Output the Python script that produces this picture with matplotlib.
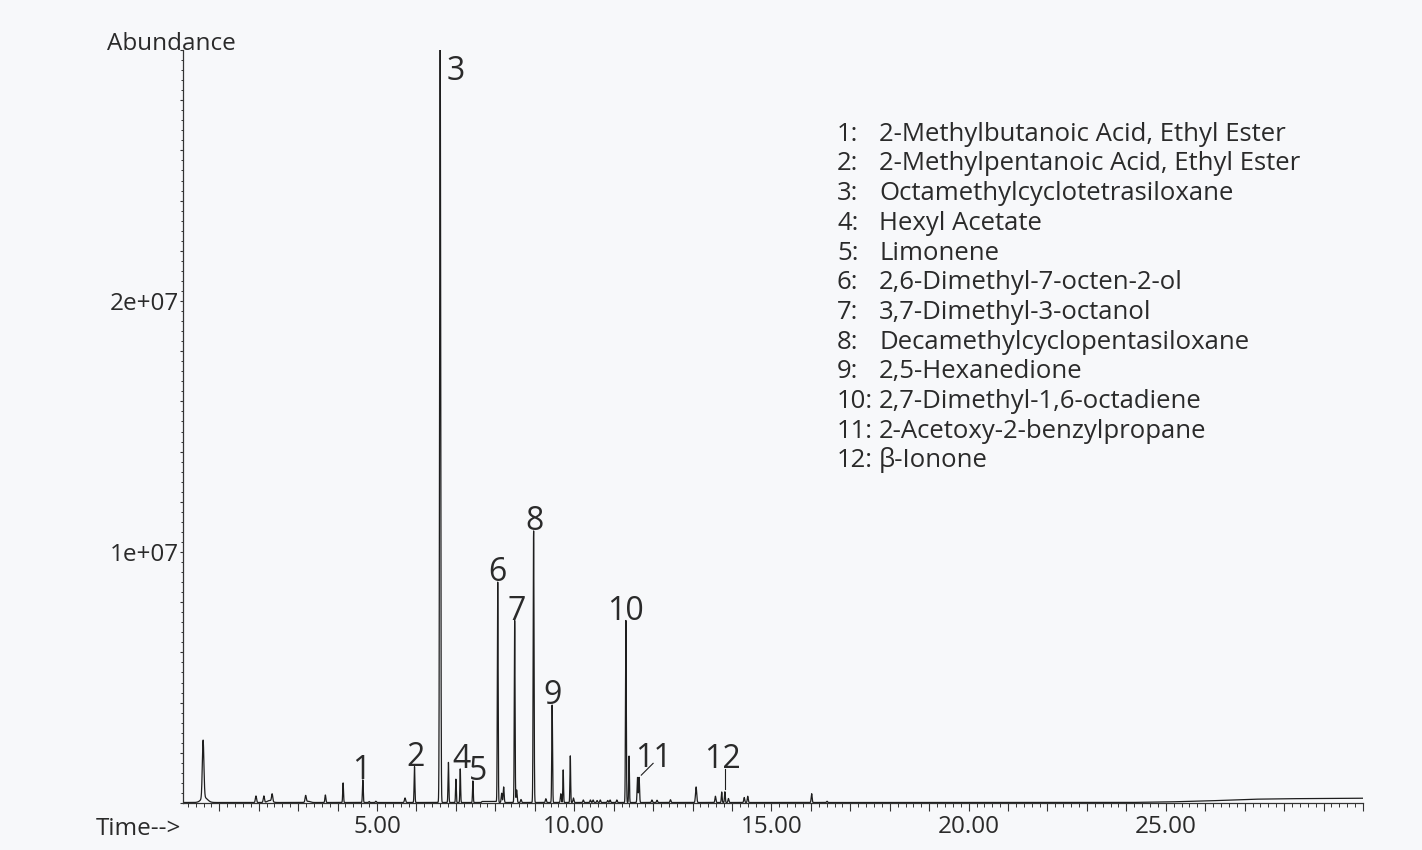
import numpy as np
import matplotlib
matplotlib.use("Agg")
import matplotlib.pyplot as plt
from matplotlib.ticker import MultipleLocator, FuncFormatter

# ---------------- data ----------------
# retention time (min), peak abundance, peak sigma (min)
peak_rt = [0.59, 0.62, 1.93, 2.13, 2.34, 2.28, 3.19, 3.25, 3.69, 4.14, 4.64, 4.80, 4.97,
           5.71, 5.95, 6.60, 6.81, 7.00, 7.11, 7.43, 8.06, 8.16, 8.21, 8.49, 8.54, 8.65,
           8.97, 9.28, 9.44, 9.66, 9.72, 9.90, 9.98, 10.23, 10.41, 10.48, 10.58, 10.66,
           10.85, 10.91, 11.08, 11.31, 11.39, 11.605, 11.645, 11.97, 12.10, 12.44, 13.09,
           13.58, 13.74, 13.82, 13.91, 14.31, 14.40, 16.02, 16.41]
peak_height = [2.30e6, 0.20e6, 0.26e6, 0.26e6, 0.30e6, 0.08e6, 0.26e6, 0.05e6, 0.30e6,
               0.78e6, 0.90e6, 0.04e6, 0.05e6, 0.18e6, 1.43e6, 3.2e7, 1.60e6, 0.93e6,
               1.34e6, 0.86e6, 8.78e6, 0.37e6, 0.62e6, 7.26e6, 0.50e6, 0.12e6, 10.83e6,
               0.15e6, 3.88e6, 0.35e6, 1.30e6, 1.86e6, 0.18e6, 0.10e6, 0.10e6, 0.10e6,
               0.08e6, 0.10e6, 0.08e6, 0.10e6, 0.10e6, 7.26e6, 1.85e6, 1.00e6, 1.00e6,
               0.10e6, 0.09e6, 0.11e6, 0.62e6, 0.25e6, 0.42e6, 0.43e6, 0.16e6, 0.20e6,
               0.25e6, 0.35e6, 0.05e6]
peak_sigma = [0.020, 0.080, 0.015, 0.015, 0.015, 0.060, 0.015, 0.050, 0.012, 0.010,
              0.010, 0.012, 0.012, 0.015, 0.010, 0.013, 0.010, 0.009, 0.009, 0.009,
              0.010, 0.012, 0.012, 0.010, 0.012, 0.012, 0.011, 0.012, 0.010, 0.012,
              0.009, 0.009, 0.012, 0.012, 0.012, 0.012, 0.012, 0.012, 0.012, 0.012,
              0.012, 0.010, 0.009, 0.011, 0.011, 0.012, 0.012, 0.012, 0.015, 0.012,
              0.010, 0.010, 0.012, 0.012, 0.012, 0.012, 0.012]

# baseline (time, abundance)
baseline_t = [0.08, 7.64, 7.66, 8.02, 8.04, 24.0, 25.0, 26.0, 27.2, 28.0, 30.0]
baseline_v = [0.02e6, 0.02e6, 0.06e6, 0.06e6, 0.02e6, 0.02e6, 0.04e6, 0.08e6, 0.15e6,
              0.17e6, 0.19e6]

# numbered (identified) peaks: number, retention time, abundance
label_num = ["1", "2", "3", "4", "5", "6", "7", "8", "9", "10", "11", "12"]
label_rt = [4.64, 5.95, 6.60, 7.11, 7.43, 8.06, 8.49, 8.97, 9.44, 11.31, 11.63, 13.82]
label_abund = [0.90e6, 1.43e6, 3.0e7, 1.34e6, 0.86e6, 8.78e6, 7.26e6, 10.83e6, 3.88e6,
               7.26e6, 1.02e6, 0.43e6]

compounds = ["2-Methylbutanoic Acid, Ethyl Ester",
             "2-Methylpentanoic Acid, Ethyl Ester",
             "Octamethylcyclotetrasiloxane",
             "Hexyl Acetate",
             "Limonene",
             "2,6-Dimethyl-7-octen-2-ol",
             "3,7-Dimethyl-3-octanol",
             "Decamethylcyclopentasiloxane",
             "2,5-Hexanedione",
             "2,7-Dimethyl-1,6-octadiene",
             "2-Acetoxy-2-benzylpropane",
             "\u03b2-Ionone"]

x_tick_labels = ["5.00", "10.00", "15.00", "20.00", "25.00"]
y_tick_labels = ["1e+07", "2e+07"]

# ---------------- build signal ----------------
t = np.arange(0.08, 30.0, 0.0015)
signal = np.interp(t, baseline_t, baseline_v)
for rt, h, s in zip(peak_rt, peak_height, peak_sigma):
    signal = signal + h * np.exp(-0.5 * ((t - rt) / s) ** 2)

# ---------------- styling ----------------
BG = "#f7f8fa"
INK = "#2a2a2a"
FONT = ["Open Sans", "DejaVu Sans"]
plt.rcParams["font.family"] = FONT
FS = 17.5
FS_LIST = 18.5

fig = plt.figure(figsize=(14.22, 8.5), dpi=100, facecolor=BG)
ax = fig.add_axes([183 / 1422, 47 / 850, (1363 - 183) / 1422, (803 - 50) / 850])
ax.set_facecolor(BG)

ax.plot(t, signal, color="#1e1e1e", lw=0.9)

ax.set_xlim(0.08, 30.0)
ax.set_ylim(0, 3.0e7)

for sp in ["top", "right"]:
    ax.spines[sp].set_visible(False)
for sp in ["left", "bottom"]:
    ax.spines[sp].set_color("#333333")
    ax.spines[sp].set_linewidth(0.9)

# x ticks
ax.xaxis.set_major_locator(MultipleLocator(1.0))
ax.xaxis.set_minor_locator(MultipleLocator(0.2))
xlab_map = {5 * (i + 1): s for i, s in enumerate(x_tick_labels)}
ax.xaxis.set_major_formatter(FuncFormatter(lambda v, p: xlab_map.get(int(round(v)), "")
                                           if abs(v - round(v)) < 1e-6 else ""))
ax.tick_params(axis="x", which="major", direction="out", length=6, width=0.8,
               color="#333333", labelsize=FS, labelcolor=INK, pad=2.5)
ax.tick_params(axis="x", which="minor", direction="out", length=3, width=0.7,
               color="#333333")

# y ticks
ax.yaxis.set_major_locator(MultipleLocator(2e6))
ax.yaxis.set_minor_locator(MultipleLocator(4e5))
ylab_map = {10: y_tick_labels[0], 20: y_tick_labels[1]}
ax.yaxis.set_major_formatter(FuncFormatter(lambda v, p: ylab_map.get(int(round(v / 1e6)), "")))
ax.tick_params(axis="y", which="major", direction="out", length=2.2, width=0.8,
               color="#333333", labelsize=FS, labelcolor=INK, pad=0.5)
ax.tick_params(axis="y", which="minor", direction="out", length=1.2, width=0.7,
               color="#333333")

# axis captions
fig.text(107 / 1422, 1 - 44 / 850, "Abundance", fontsize=FS, color=INK,
         ha="left", va="center")
fig.text(181 / 1422, 1 - 829 / 850, "Time-->", fontsize=FS, color=INK,
         ha="right", va="center")

# peak numbers
dx = {"1": -0.05, "2": 0.03, "4": 0.04, "5": 0.13, "6": -0.02, "7": 0.04, "8": 0.02,
      "9": 0.01, "10": 0.0, "12": -0.06}
gap = 0.05e6
for num, rt, ab in zip(label_num, label_rt, label_abund):
    if num == "3":
        ax.text(rt + 0.17, 2.88e7, num, fontsize=23, color=INK, ha="left", va="baseline")
    elif num == "11":
        ax.text(rt + 0.37, ab + 0.43e6, num, fontsize=23, color=INK, ha="center",
                va="baseline")
        ax.plot([rt + 0.07, rt + 0.37], [ab + 0.09e6, ab + 0.56e6], color="#1e1e1e", lw=0.8)
    elif num == "12":
        ax.text(rt + dx[num], ab + 0.95e6, num, fontsize=23, color=INK, ha="center",
                va="baseline")
        ax.plot([rt, rt], [ab + 0.11e6, ab + 0.91e6], color="#1e1e1e", lw=0.8)
    else:
        ax.text(rt + dx[num], ab + gap, num, fontsize=23, color=INK, ha="center",
                va="baseline")

# compound list
for i, name in enumerate(compounds):
    yb = 1 - (140.7 + i * 29.7) / 850
    fig.text(837 / 1422, yb, f"{i + 1}:", fontsize=FS_LIST, color=INK, ha="left",
             va="baseline")
    fig.text(879 / 1422, yb, name, fontsize=FS_LIST, color=INK, ha="left", va="baseline")

fig.savefig("out.png", dpi=100, facecolor=BG)
